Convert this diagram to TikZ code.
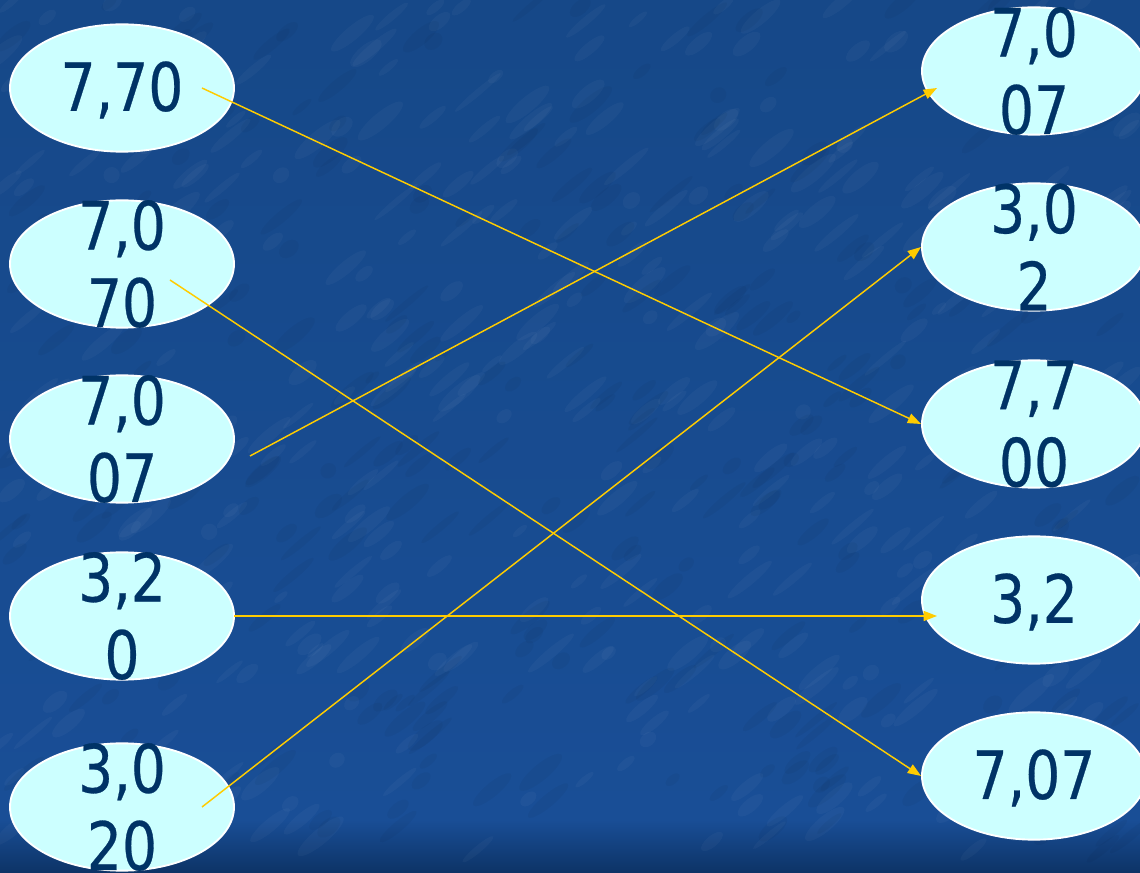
\documentclass[tikz,border=0pt]{standalone}
\usepackage{fontspec}
\setmainfont{DejaVu Sans Condensed}[FakeStretch=0.92,FakeBold=0.4]
\usetikzlibrary{arrows.meta,shapes.geometric}
\definecolor{bgtop}{HTML}{164888}
\definecolor{bgmid}{HTML}{194E96}
\definecolor{bgbot}{HTML}{0D3366}
\definecolor{ellfill}{HTML}{CCFFFF}
\definecolor{txt}{HTML}{003366}
\definecolor{arrowc}{HTML}{FFCC00}
\tikzset{
  oval/.style={ellipse, fill=ellfill, draw=white, line width=1.4pt,
    minimum width=168pt, minimum height=95.5pt, inner sep=0pt},
  lbl/.style={text=txt, align=center, inner sep=0pt,
    font=\fontsize{50}{58}\selectfont},
  link/.style={draw=arrowc, line width=1.1pt,
    -{Triangle[length=10pt,width=7.5pt]}},
  mottle/.style={fill=white, opacity=0.03},
  shadowy/.style={fill=black, opacity=0.035}
}
\begin{document}
\begin{tikzpicture}[x=0.75pt,y=-0.75pt]
\useasboundingbox (0,0) rectangle (1140,873);
\clip (0,0) rectangle (1140,873);
% background
\shade[top color=bgtop, bottom color=bgmid] (0,0) rectangle (1140,820);
\shade[top color=bgmid, bottom color=bgbot] (0,820) rectangle (1140,873);
% subtle mottled texture
\pgfmathsetseed{11}
\foreach \i in {1,...,380}{
  \pgfmathsetmacro{\px}{rnd*1140}
  \pgfmathsetmacro{\py}{rnd*850}
  \pgfmathsetmacro{\pa}{8+rnd*22}
  \pgfmathsetmacro{\pb}{3+rnd*5}
  \fill[mottle, rotate around={40:(\px,\py)}] (\px,\py) ellipse [x radius=\pa, y radius=\pb];
}
\foreach \i in {1,...,300}{
  \pgfmathsetmacro{\px}{rnd*1140}
  \pgfmathsetmacro{\py}{rnd*850}
  \pgfmathsetmacro{\pa}{8+rnd*20}
  \pgfmathsetmacro{\pb}{3+rnd*5}
  \fill[shadowy, rotate around={40:(\px,\py)}] (\px,\py) ellipse [x radius=\pa, y radius=\pb];
}
% left ovals
\node[oval] (l1) at (122,88) {};
\node[oval] (l2) at (122,264) {};
\node[oval] (l3) at (122,439) {};
\node[oval] (l4) at (122,616) {};
\node[oval] (l5) at (122,807) {};
% right ovals
\node[oval] (r1) at (1034,71) {};
\node[oval] (r2) at (1034,247) {};
\node[oval] (r3) at (1034,424) {};
\node[oval] (r4) at (1034,600) {};
\node[oval] (r5) at (1034,776) {};
% labels
\node[lbl] (tl1) at ([yshift=-1.5pt]l1) {7,70};
\node[lbl] (tl2) at (l2) {7,0\\70};
\node[lbl] (tl3) at (l3) {7,0\\07};
\node[lbl] (tl4) at (l4) {3,2\\0};
\node[lbl] (tl5) at (l5) {3,0\\20};
\node[lbl] (tr1) at (r1) {7,0\\07};
\node[lbl] (tr2) at (r2) {3,0\\2};
\node[lbl] (tr3) at (r3) {7,7\\00};
\node[lbl] (tr4) at ([yshift=-1.5pt]r4) {3,2};
\node[lbl] (tr5) at ([yshift=-1.5pt]r5) {7,07};
% connector end points
\coordinate (s1) at (202,88);
\coordinate (s2) at (170,280);
\coordinate (s3) at (250,456);
\coordinate (s4) at (234,616);
\coordinate (s5) at (202,807);
\coordinate (e3) at (937,88);
\coordinate (e4) at (937,616);
% connectors
\draw[link] (s1) -- (r3.west);
\draw[link] (s2) -- (r5.west);
\draw[link] (s3) -- (e3);
\draw[link] (s4) -- (e4);
\draw[link] (s5) -- (r2.west);
\end{tikzpicture}
\end{document}
